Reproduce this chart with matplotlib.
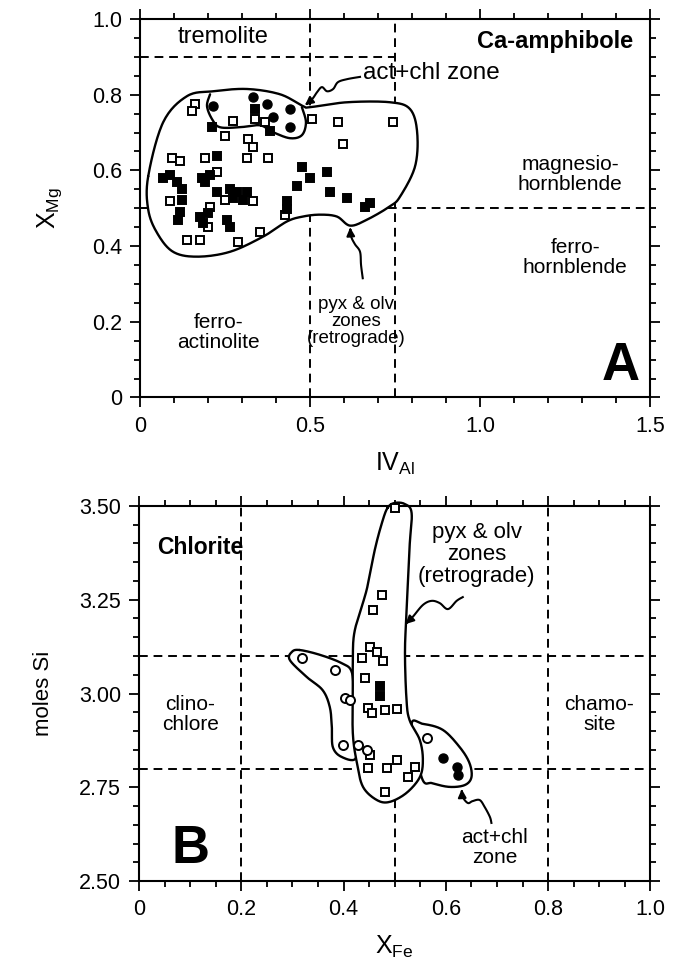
import numpy as np
import matplotlib
matplotlib.use("Agg")
import matplotlib.pyplot as plt
from matplotlib.ticker import MultipleLocator, FixedLocator, FixedFormatter

plt.rcParams['font.family'] = ['Liberation Sans', 'DejaVu Sans']
plt.rcParams['mathtext.default'] = 'regular'

# ---------------- Panel A : Ca-amphibole ----------------
a_open_x = [0.162, 0.153, 0.274, 0.25, 0.338, 0.368, 0.506, 0.582, 0.597, 0.744,
            0.318, 0.332, 0.315, 0.376, 0.191, 0.094, 0.118, 0.088, 0.226, 0.25,
            0.332, 0.206, 0.2, 0.353, 0.288, 0.138, 0.176, 0.426]
a_open_y = [0.775, 0.756, 0.730, 0.690, 0.735, 0.727, 0.735, 0.727, 0.669, 0.727,
            0.682, 0.661, 0.634, 0.634, 0.634, 0.634, 0.624, 0.518, 0.595, 0.523,
            0.518, 0.502, 0.451, 0.438, 0.412, 0.417, 0.417, 0.483]
a_fill_x = [0.212, 0.382, 0.338, 0.226, 0.068, 0.088, 0.109, 0.124, 0.124, 0.118,
            0.112, 0.182, 0.206, 0.191, 0.226, 0.265, 0.285, 0.315, 0.303, 0.274,
            0.176, 0.2, 0.185, 0.256, 0.265, 0.476, 0.5, 0.462, 0.55, 0.559,
            0.432, 0.432, 0.609, 0.676, 0.662]
a_fill_y = [0.714, 0.703, 0.762, 0.637, 0.581, 0.589, 0.568, 0.55, 0.523, 0.491,
            0.47, 0.581, 0.589, 0.568, 0.544, 0.55, 0.542, 0.544, 0.523, 0.528,
            0.478, 0.488, 0.462, 0.47, 0.451, 0.61, 0.581, 0.558, 0.597, 0.544,
            0.518, 0.497, 0.528, 0.515, 0.502]
a_circ_x = [0.215, 0.332, 0.374, 0.391, 0.441, 0.441]
a_circ_y = [0.77, 0.793, 0.775, 0.74, 0.762, 0.714]

# outline of field for all amphiboles
a_blob_x = [0.024, 0.068, 0.138, 0.215, 0.315, 0.412, 0.479, 0.5, 0.609, 0.735,
            0.794, 0.815, 0.809, 0.765, 0.735, 0.668, 0.618, 0.579, 0.529, 0.479,
            0.432, 0.362, 0.265, 0.168, 0.097, 0.05, 0.024]
a_blob_y = [0.584, 0.727, 0.796, 0.809, 0.815, 0.801, 0.77, 0.767, 0.78, 0.78,
            0.762, 0.701, 0.611, 0.531, 0.505, 0.47, 0.454, 0.478, 0.483, 0.478,
            0.465, 0.425, 0.385, 0.372, 0.385, 0.435, 0.497]
# act+chl zone sub-field boundary
a_inner_x = [0.206, 0.197, 0.212, 0.235, 0.294, 0.353, 0.391, 0.441, 0.476, 0.488, 0.476]
a_inner_y = [0.801, 0.77, 0.735, 0.714, 0.714, 0.719, 0.701, 0.685, 0.693, 0.727, 0.767]

# ---------------- Panel B : Chlorite ----------------
b_open_x = [0.5, 0.475, 0.457, 0.451, 0.465, 0.436, 0.477, 0.441, 0.447, 0.455,
            0.48, 0.504, 0.451, 0.447, 0.484, 0.504, 0.539, 0.525, 0.48]
b_open_y = [3.495, 3.263, 3.223, 3.124, 3.111, 3.095, 3.087, 3.041, 2.961, 2.948,
            2.956, 2.959, 2.836, 2.801, 2.801, 2.823, 2.804, 2.777, 2.737]
b_fill_x = [0.471, 0.471]
b_fill_y = [3.02, 2.993]
b_ocirc_x = [0.318, 0.383, 0.402, 0.412, 0.398, 0.428, 0.445, 0.563]
b_ocirc_y = [3.095, 3.063, 2.988, 2.983, 2.863, 2.863, 2.849, 2.881]
b_fcirc_x = [0.594, 0.621, 0.623]
b_fcirc_y = [2.828, 2.804, 2.783]

b_tall_x = [0.486, 0.475, 0.461, 0.445, 0.422, 0.418, 0.418, 0.418, 0.426, 0.438,
            0.465, 0.49, 0.523, 0.549, 0.555, 0.549, 0.529, 0.523, 0.52, 0.523,
            0.529, 0.533, 0.52, 0.5]
b_tall_y = [3.495, 3.455, 3.383, 3.276, 3.169, 3.097, 3.028, 2.895, 2.815, 2.751,
            2.716, 2.711, 2.735, 2.777, 2.823, 2.876, 2.929, 2.983, 3.108, 3.215,
            3.391, 3.481, 3.505, 3.508]
b_band_x = [0.314, 0.354, 0.396, 0.416, 0.42, 0.422, 0.424, 0.396, 0.379, 0.377,
            0.373, 0.359, 0.328, 0.295, 0.299]
b_band_y = [3.116, 3.103, 3.081, 3.057, 2.983, 2.903, 2.828, 2.831, 2.857, 2.911,
            2.964, 3.009, 3.044, 3.089, 3.111]
b_lobe_x = [0.533, 0.555, 0.594, 0.627, 0.646, 0.65, 0.637, 0.607, 0.574, 0.553]
b_lobe_y = [2.916, 2.919, 2.903, 2.857, 2.815, 2.777, 2.756, 2.751, 2.761, 2.775]

# leader squiggles (annotation arrows)
a_lead1_x = [0.647, 0.609, 0.582, 0.568, 0.55, 0.535, 0.521, 0.506, 0.485]
a_lead1_y = [0.847, 0.841, 0.833, 0.815, 0.809, 0.82, 0.807, 0.788, 0.772]
a_lead2_x = [0.655, 0.65, 0.647, 0.632, 0.621, 0.618]
a_lead2_y = [0.315, 0.35, 0.385, 0.405, 0.425, 0.449]
b_lead1_x = [0.633, 0.621, 0.604, 0.588, 0.572, 0.555, 0.535, 0.521]
b_lead1_y = [3.257, 3.247, 3.225, 3.241, 3.247, 3.236, 3.204, 3.185]
b_lead2_x = [0.689, 0.686, 0.676, 0.666, 0.652, 0.643, 0.633, 0.631]
b_lead2_y = [2.655, 2.671, 2.697, 2.716, 2.713, 2.708, 2.724, 2.745]


def catmull(xs, ys, closed=True, n=16):
    pts = np.column_stack([xs, ys]).astype(float)
    N = len(pts)
    if not closed:
        pts = np.vstack([pts[0], pts, pts[-1]])
    out = []
    rng = range(N) if closed else range(1, N)
    t = np.linspace(0, 1, n, endpoint=False)[:, None]
    for i in rng:
        if closed:
            p0, p1, p2, p3 = pts[(i - 1) % N], pts[i], pts[(i + 1) % N], pts[(i + 2) % N]
        else:
            p0, p1, p2, p3 = pts[i - 1], pts[i], pts[i + 1], pts[i + 2]
        out.append(0.5 * ((2 * p1) + (-p0 + p2) * t + (2 * p0 - 5 * p1 + 4 * p2 - p3) * t ** 2
                          + (-p0 + 3 * p1 - 3 * p2 + p3) * t ** 3))
    res = np.vstack(out)
    if closed:
        res = np.vstack([res, res[0]])
    else:
        res = np.vstack([res, pts[-2]])
    return res[:, 0], res[:, 1]


DASH = (0, (4.5, 3))
LW_D = 1.4
FS = 15
TFS = 15.5


def style_axes(ax):
    for s in ax.spines.values():
        s.set_linewidth(1.5)
    ax.tick_params(which='both', direction='out', top=True, right=True, width=1.3,
                   labelsize=TFS, pad=6)
    ax.tick_params(which='major', length=7)
    ax.tick_params(which='minor', length=4)
    ax.tick_params(which='both', labeltop=False, labelright=False)


def outline(ax, xs, ys, closed=True, fill=True, z=2):
    sx, sy = catmull(xs, ys, closed=closed)
    if fill:
        ax.fill(sx, sy, color='white', zorder=z, lw=0)
    ax.plot(sx, sy, color='k', lw=1.7, zorder=z + 0.1, solid_capstyle='round', clip_on=False)


def leader(ax, xs, ys):
    sx, sy = catmull(xs, ys, closed=False, n=8)
    ax.plot(sx[:-3], sy[:-3], color='k', lw=1.5, zorder=5)
    ax.annotate('', xy=(sx[-1], sy[-1]), xytext=(sx[-4], sy[-4]),
                arrowprops=dict(arrowstyle='-|>', color='k', lw=1.5, mutation_scale=12,
                                shrinkA=0, shrinkB=0), zorder=5)


fig = plt.figure(figsize=(6.81, 9.73), dpi=100)
axA = fig.add_axes([0.2056, 0.5915, 0.749, 0.389])
axB = fig.add_axes([0.2041, 0.0945, 0.7511, 0.3855])

MS = 6

# ---- Panel A
ax = axA
ax.set_xlim(0, 1.5)
ax.set_ylim(0, 1.0)
ax.plot([0.5, 0.5], [0, 1], color='k', ls=DASH, lw=LW_D, zorder=1)
ax.plot([0.75, 0.75], [0, 1], color='k', ls=DASH, lw=LW_D, zorder=1)
ax.plot([0, 0.75], [0.9, 0.9], color='k', ls=DASH, lw=LW_D, zorder=1)
ax.plot([0, 1.5], [0.5, 0.5], color='k', ls=DASH, lw=LW_D, zorder=1)
outline(ax, a_blob_x, a_blob_y)
outline(ax, a_inner_x, a_inner_y, closed=False, fill=False, z=2.2)
ax.plot(a_open_x, a_open_y, 's', ms=MS, mfc='white', mec='k', mew=1.4, ls='none', zorder=3)
ax.plot(a_fill_x, a_fill_y, 's', ms=MS, mfc='k', mec='k', mew=1.4, ls='none', zorder=3)
ax.plot(a_circ_x, a_circ_y, 'o', ms=6.5, mfc='k', mec='k', mew=1.0, ls='none', zorder=3)
leader(ax, a_lead1_x, a_lead1_y)
leader(ax, a_lead2_x, a_lead2_y)

ax.text(0.245, 0.952, 'tremolite', ha='center', va='center', fontsize=17)
ax.text(1.45, 0.94, 'Ca-amphibole', ha='right', va='center', fontsize=17, fontweight='bold')
ax.text(0.655, 0.858, 'act+chl zone', ha='left', va='center', fontsize=17.5)
ax.text(1.265, 0.59, 'magnesio-\nhornblende', ha='center', va='center', fontsize=FS,
        linespacing=1.05)
ax.text(1.28, 0.37, 'ferro-\nhornblende', ha='center', va='center', fontsize=FS,
        linespacing=1.05)
ax.text(0.23, 0.172, 'ferro-\nactinolite', ha='center', va='center', fontsize=FS,
        linespacing=1.05)
ax.text(0.635, 0.2, 'pyx & olv\nzones\n(retrograde)', ha='center', va='center',
        fontsize=13.5, linespacing=1.0)
ax.text(1.413, 0.045, 'A', ha='center', va='baseline', fontsize=38, fontweight='bold')

ax.xaxis.set_major_locator(FixedLocator([0, 0.5, 1.0, 1.5]))
ax.xaxis.set_major_formatter(FixedFormatter(['0', '0.5', '1.0', '1.5']))
ax.xaxis.set_minor_locator(MultipleLocator(0.1))
ax.yaxis.set_major_locator(FixedLocator([0, 0.2, 0.4, 0.6, 0.8, 1.0]))
ax.yaxis.set_major_formatter(FixedFormatter(['0', '0.2', '0.4', '0.6', '0.8', '1.0']))
ax.yaxis.set_minor_locator(MultipleLocator(0.05))
style_axes(ax)
ax.set_xlabel('IV$_{Al}$', fontsize=18, labelpad=10)
ax.set_ylabel('X$_{Mg}$', fontsize=18, labelpad=20)

# ---- Panel B
ax = axB
ax.set_xlim(0, 1.0)
ax.set_ylim(2.5, 3.5)
for xv in (0.2, 0.5, 0.8):
    ax.plot([xv, xv], [2.5, 3.5], color='k', ls=DASH, lw=LW_D, zorder=1)
for yv in (3.1, 2.8):
    ax.plot([0, 1], [yv, yv], color='k', ls=DASH, lw=LW_D, zorder=1)
outline(ax, b_band_x, b_band_y, z=2)
outline(ax, b_lobe_x, b_lobe_y, z=2)
outline(ax, b_tall_x, b_tall_y, z=2.3)
ax.plot(b_open_x, b_open_y, 's', ms=MS, mfc='white', mec='k', mew=1.4, ls='none',
        zorder=3, clip_on=False)
ax.plot(b_fill_x, b_fill_y, 's', ms=MS, mfc='k', mec='k', mew=1.4, ls='none', zorder=3)
ax.plot(b_ocirc_x, b_ocirc_y, 'o', ms=6.5, mfc='white', mec='k', mew=1.4, ls='none', zorder=3)
ax.plot(b_fcirc_x, b_fcirc_y, 'o', ms=6.5, mfc='k', mec='k', mew=1.0, ls='none', zorder=3)
leader(ax, b_lead1_x, b_lead1_y)
leader(ax, b_lead2_x, b_lead2_y)

ax.text(0.035, 3.39, 'Chlorite', ha='left', va='center', fontsize=16.5, fontweight='bold')
ax.text(0.66, 3.37, 'pyx & olv\nzones\n(retrograde)', ha='center', va='center',
        fontsize=16, linespacing=1.05)
ax.text(0.1, 2.945, 'clino-\nchlore', ha='center', va='center', fontsize=FS, linespacing=1.05)
ax.text(0.9, 2.945, 'chamo-\nsite', ha='center', va='center', fontsize=FS, linespacing=1.05)
ax.text(0.695, 2.59, 'act+chl\nzone', ha='center', va='center', fontsize=FS, linespacing=1.05)
ax.text(0.064, 2.548, 'B', ha='left', va='baseline', fontsize=38, fontweight='bold')

ax.xaxis.set_major_locator(FixedLocator([0, 0.2, 0.4, 0.6, 0.8, 1.0]))
ax.xaxis.set_major_formatter(FixedFormatter(['0', '0.2', '0.4', '0.6', '0.8', '1.0']))
ax.xaxis.set_minor_locator(MultipleLocator(0.05))
ax.yaxis.set_major_locator(FixedLocator([2.5, 2.75, 3.0, 3.25, 3.5]))
ax.yaxis.set_major_formatter(FixedFormatter(['2.50', '2.75', '3.00', '3.25', '3.50']))
ax.yaxis.set_minor_locator(MultipleLocator(0.05))
style_axes(ax)
ax.set_xlabel('X$_{Fe}$', fontsize=18, labelpad=10)
ax.set_ylabel('moles Si', fontsize=16, labelpad=18)

fig.savefig('out.png', dpi=100)
